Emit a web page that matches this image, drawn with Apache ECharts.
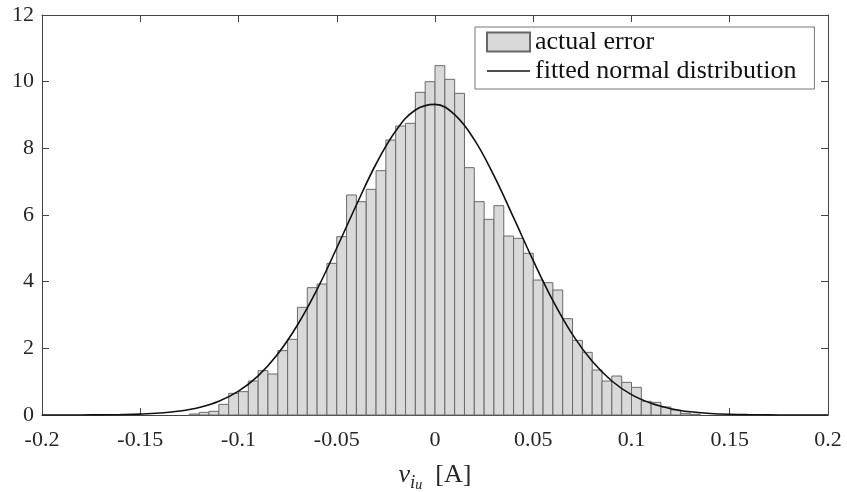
<!DOCTYPE html>
<html>
<head>
<meta charset="utf-8">
<script src="https://cdn.jsdelivr.net/npm/echarts@6/dist/echarts.min.js"></script>
<style>
  html, body { margin: 0; padding: 0; background: #fff; }
  #chart { width: 847px; height: 492px; }
</style>
</head>
<body>
<div id="chart"></div>
<script>
// histogram bins (left edge, width 0.005) and normalized heights
const binLeft = [
  -0.125, -0.12, -0.115, -0.11, -0.105, -0.1, -0.095, -0.09, -0.085, -0.08,
  -0.075, -0.07, -0.065, -0.06, -0.055, -0.05, -0.045, -0.04, -0.035, -0.03,
  -0.025, -0.02, -0.015, -0.01, -0.005, 0, 0.005, 0.01, 0.015, 0.02,
  0.025, 0.03, 0.035, 0.04, 0.045, 0.05, 0.055, 0.06, 0.065, 0.07,
  0.075, 0.08, 0.085, 0.09, 0.095, 0.1, 0.105, 0.11, 0.115, 0.12,
  0.125, 0.13
];
const binHeight = [
  0.03, 0.08, 0.11, 0.32, 0.65, 0.70, 1.02, 1.33, 1.23, 1.93,
  2.27, 3.23, 3.82, 3.93, 4.55, 5.35, 6.60, 6.40, 6.77, 7.33,
  8.25, 8.67, 8.75, 9.68, 10.00, 10.48, 10.07, 9.65, 7.42, 6.40,
  5.87, 6.28, 5.37, 5.30, 4.85, 4.05, 3.97, 3.75, 2.89, 2.24,
  1.88, 1.35, 1.02, 1.17, 0.98, 0.83, 0.41, 0.38, 0.24, 0.15,
  0.05, 0.02
];
const binWidth = 0.005;

// fitted normal curve
const curveX = [
  -0.2, -0.19, -0.18, -0.17, -0.16, -0.15, -0.14, -0.13, -0.12, -0.11,
  -0.1, -0.09, -0.08, -0.07, -0.06, -0.05, -0.04, -0.03, -0.02, -0.01,
  0, 0.01, 0.02, 0.03, 0.04, 0.05, 0.06, 0.07, 0.08, 0.09,
  0.1, 0.11, 0.12, 0.13, 0.14, 0.15, 0.16, 0.17, 0.18, 0.19, 0.2
];
const curveY = [
  0.0, 0.001, 0.002, 0.005, 0.012, 0.027, 0.058, 0.118, 0.227, 0.414,
  0.716, 1.175, 1.83, 2.70, 3.77, 5.01, 6.30, 7.53, 8.52, 9.15,
  9.32, 9.01, 8.26, 7.18, 5.92, 4.63, 3.43, 2.41, 1.61, 1.02,
  0.61, 0.35, 0.19, 0.096, 0.047, 0.021, 0.009, 0.004, 0.001, 0.0, 0.0
];

const serif = '"Liberation Serif", "DejaVu Serif", serif';
const axisColor = '#444';
const labelColor = '#262626';

const histData = binLeft.map((x, i) => [x, x + binWidth, binHeight[i]]);
const curveData = curveX.map((x, i) => [x, curveY[i]]);

const chart = echarts.init(document.getElementById('chart'));

const tickFmt = v => String(+v.toFixed(2));

chart.setOption({
  animation: false,
  grid: { left: 42, right: 19, top: 15, bottom: 77, containLabel: false, outerBoundsMode: 'none' },
  legend: {
    orient: 'vertical',
    left: 475,
    top: 27,
    padding: [2, 18, 5, 11],
    itemGap: 3,
    itemWidth: 43,
    itemHeight: 19,
    backgroundColor: '#fff',
    borderColor: '#777',
    borderWidth: 1,
    borderRadius: 0,
    textStyle: { fontFamily: serif, fontSize: 26, color: '#111' },
    data: [
      { name: 'actual error', icon: 'rect' },
      { name: 'fitted normal distribution', itemStyle: { opacity: 0 }, lineStyle: { color: '#111', width: 1.6 } }
    ]
  },
  xAxis: [
    {
      type: 'value',
      min: -0.2, max: 0.2, interval: 0.05,
      position: 'bottom',
      axisLine: { onZero: false, lineStyle: { color: axisColor, width: 1 } },
      axisTick: { inside: true, length: 7, lineStyle: { color: axisColor } },
      splitLine: { show: false },
      axisLabel: { margin: 14, color: labelColor, fontFamily: serif, fontSize: 22, formatter: tickFmt },
      name: '{v|v}{i|i}{u|u}{a|  [A]}',
      nameLocation: 'middle',
      nameGap: 43,
      nameTextStyle: {
        rich: {
          v: { fontFamily: serif, fontStyle: 'italic', fontSize: 26, color: labelColor, lineHeight: 34, verticalAlign: 'middle' },
          i: { fontFamily: serif, fontStyle: 'italic', fontSize: 19, color: labelColor, lineHeight: 20, verticalAlign: 'bottom' },
          u: { fontFamily: serif, fontStyle: 'italic', fontSize: 14, color: labelColor, lineHeight: 8, verticalAlign: 'bottom' },
          a: { fontFamily: serif, fontSize: 26, color: labelColor, lineHeight: 34, verticalAlign: 'middle' }
        }
      }
    },
    {
      type: 'value',
      min: -0.2, max: 0.2, interval: 0.05,
      position: 'top',
      axisLine: { onZero: false, lineStyle: { color: axisColor, width: 1 } },
      axisTick: { inside: true, length: 7, lineStyle: { color: axisColor } },
      splitLine: { show: false },
      axisLabel: { show: false }
    }
  ],
  yAxis: [
    {
      type: 'value',
      min: 0, max: 12, interval: 2,
      position: 'left',
      axisLine: { show: true, onZero: false, lineStyle: { color: axisColor, width: 1 } },
      axisTick: { show: true, inside: true, length: 7, lineStyle: { color: axisColor } },
      splitLine: { show: false },
      axisLabel: { margin: 8, color: labelColor, fontFamily: serif, fontSize: 22 }
    },
    {
      type: 'value',
      min: 0, max: 12, interval: 2,
      position: 'right',
      axisLine: { show: true, onZero: false, lineStyle: { color: axisColor, width: 1 } },
      axisTick: { show: true, inside: true, length: 7, lineStyle: { color: axisColor } },
      splitLine: { show: false },
      axisLabel: { show: false }
    }
  ],
  series: [
    {
      name: 'actual error',
      type: 'custom',
      xAxisIndex: 0,
      yAxisIndex: 0,
      data: histData,
      encode: { x: [0, 1], y: 2 },
      itemStyle: { color: '#d9d9d9', borderColor: '#666', borderWidth: 1 },
      renderItem: (params, api) => {
        const top = api.coord([api.value(0), api.value(2)]);
        const bottom = api.coord([api.value(1), 0]);
        return {
          type: 'rect',
          shape: { x: top[0], y: top[1], width: bottom[0] - top[0], height: bottom[1] - top[1] },
          style: { fill: '#d9d9d9', stroke: '#6a6a6a', lineWidth: 1 }
        };
      },
      z: 2
    },
    {
      name: 'fitted normal distribution',
      type: 'line',
      xAxisIndex: 0,
      yAxisIndex: 0,
      data: curveData,
      smooth: 0.4,
      symbol: 'none',
      showSymbol: false,
      lineStyle: { color: '#111', width: 1.6 },
      itemStyle: { color: '#111' },
      z: 3
    }
  ]
});
</script>
</body>
</html>
